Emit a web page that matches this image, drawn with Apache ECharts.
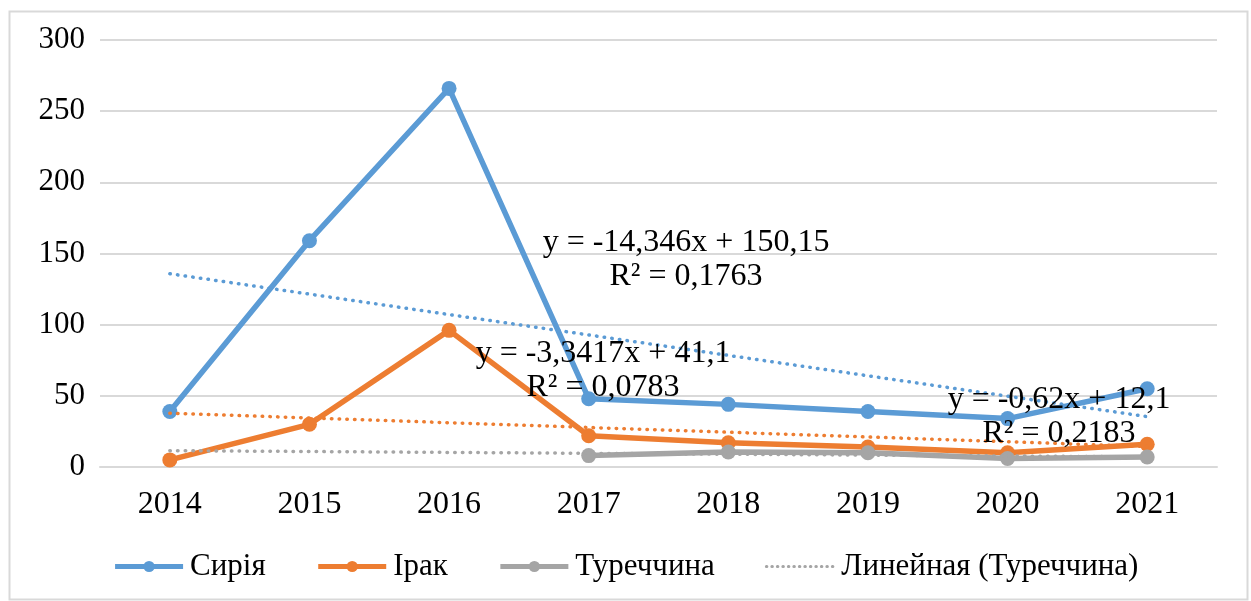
<!DOCTYPE html>
<html>
<head>
<meta charset="utf-8">
<script src="https://cdn.jsdelivr.net/npm/echarts@6/dist/echarts.min.js"></script>
<style>
  html, body { margin: 0; padding: 0; background: #fff; }
  #chart { width: 1251px; height: 601px; }
</style>
</head>
<body>
<div id="chart"></div>
<script>
// categories and values
const years = ['2014', '2015', '2016', '2017', '2018', '2019', '2020', '2021']
const syria = [39, 159, 266, 48, 44, 39, 34, 55]
const iraq = [5, 30, 96, 22, 17, 14, 10, 16]
const turkey = [null, null, null, 8, 10.5, 10, 6, 7]
// linear trend endpoints (first and last year)
const syriaTrend = [135.8, 35.4]
const iraqTrend = [37.8, 14.4]
const turkeyTrend = [11.5, 7.1]
const yTicks = [0, 300, 50]

const font = '"Liberation Serif", "Times New Roman", serif'
const colors = { syria: '#5B9BD5', iraq: '#ED7D31', turkey: '#A5A5A5' }

// trend line spans the whole category range; gaps are joined
const trendData = ends => years.map((y, i) => i === 0 ? ends[0] : (i === years.length - 1 ? ends[1] : null))

const mainLine = (name, data, color) => ({
  name, type: 'line', data,
  symbol: 'circle', symbolSize: 15,
  itemStyle: { color },
  lineStyle: { color, width: 5.5 },
  z: 3
})
const trendLine = (name, ends, color) => ({
  name, type: 'line', data: trendData(ends),
  connectNulls: true, symbol: 'none',
  itemStyle: { color },
  lineStyle: { color, width: 3.5, type: [0.5, 7.2], cap: 'round' },
  silent: true, z: 4
})

const eqText = (text, x, y) => ({
  type: 'text', x, y, z: 100, silent: true,
  style: { text, font: '32px ' + font, fill: '#000', textAlign: 'center', align: 'center', textVerticalAlign: 'top', verticalAlign: 'top', lineHeight: 34 }
})

const chart = echarts.init(document.getElementById('chart'))
chart.setOption({
  animation: false,
  backgroundColor: '#fff',
  grid: { left: 100, right: 34, top: 40, bottom: 134 },
  xAxis: {
    type: 'category', data: years,
    axisLine: { lineStyle: { color: '#d9d9d9', width: 2 } },
    axisTick: { show: false },
    axisLabel: { color: '#000', fontFamily: font, fontSize: 32, margin: 22 }
  },
  yAxis: {
    type: 'value', min: yTicks[0], max: yTicks[1], interval: yTicks[2],
    axisLine: { show: false }, axisTick: { show: false },
    splitLine: { lineStyle: { color: '#d9d9d9', width: 2 } },
    axisLabel: { color: '#000', fontFamily: font, fontSize: 31, margin: 15 }
  },
  legend: {
    bottom: 14, left: 'center',
    itemWidth: 68, itemHeight: 14, itemGap: 50,
    data: [
      { name: 'Сирія', lineStyle: { width: 5 } },
      { name: 'Ірак', lineStyle: { width: 5 } },
      { name: 'Туреччина', lineStyle: { width: 5 } },
      { name: 'Линейная (Туреччина)', itemStyle: { opacity: 0 }, lineStyle: { width: 3, type: [0.5, 5], cap: 'round' } }
    ],
    textStyle: { color: '#000', fontFamily: font, fontSize: 31, padding: [0, 0, 0, 2] }
  },
  series: [
    mainLine('Сирія', syria, colors.syria),
    mainLine('Ірак', iraq, colors.iraq),
    mainLine('Туреччина', turkey, colors.turkey),
    trendLine('Линейная (Сирія)', syriaTrend, colors.syria),
    trendLine('Линейная (Ірак)', iraqTrend, colors.iraq),
    trendLine('Линейная (Туреччина)', turkeyTrend, colors.turkey)
  ],
  graphic: [
    {
      type: 'rect', left: 7, top: 9, z: -10, silent: true,
      shape: { width: 1238, height: 588 },
      style: { fill: 'none', stroke: '#d9d9d9', lineWidth: 2 }
    },
    eqText('y = -14,346x + 150,15\nR² = 0,1763', 686, 226),
    eqText('y = -3,3417x + 41,1\nR² = 0,0783', 603, 337),
    eqText('y = -0,62x + 12,1\nR² = 0,2183', 1059, 383)
  ]
})
</script>
</body>
</html>
